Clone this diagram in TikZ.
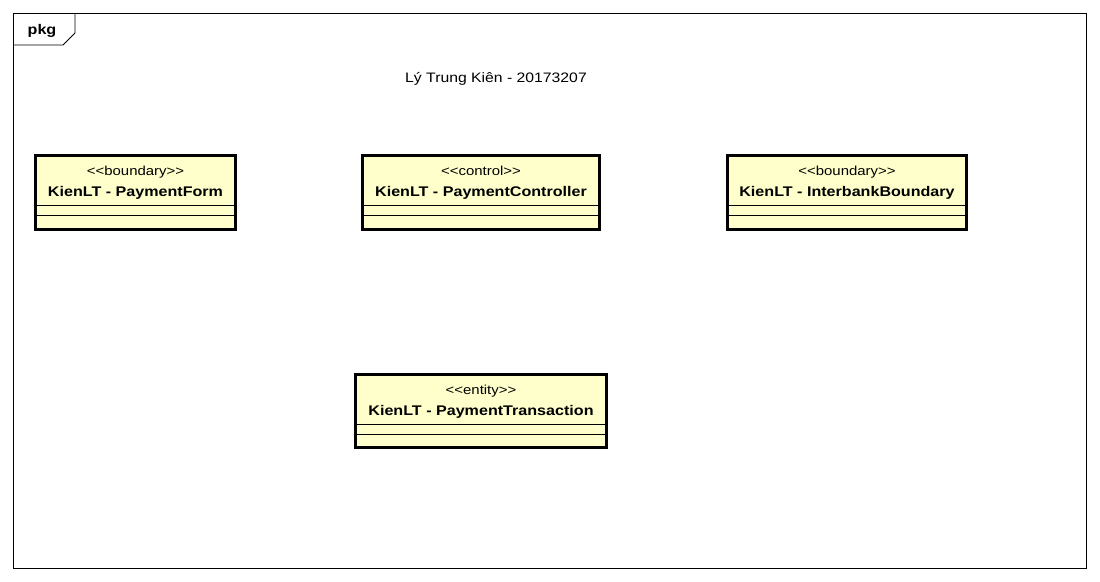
\documentclass[tikz,border=0pt]{standalone}
\usepackage{fontspec}
\setmainfont{Liberation Sans}
\newfontfamily\umlfont[FakeStretch=1.15]{Liberation Sans}
\usetikzlibrary{positioning, calc}
\definecolor{classfill}{RGB}{255,255,204}
\newcommand{\stereotxt}[1]{\textless\kern0pt\textless #1\textgreater\kern0pt\textgreater}

\begin{document}
\begin{tikzpicture}[x=1pt, y=-1pt,
    classbox/.style={draw, line width=2.5pt, fill=classfill, anchor=north west,
      inner sep=0pt, outer sep=0pt, minimum height=74pt},
    stereo/.style={anchor=base, font=\umlfont\fontsize{13}{15}\selectfont},
    cname/.style={anchor=base, font=\umlfont\fontsize{14}{16}\selectfont\bfseries},
    compline/.style={line width=0.9pt}]
\useasboundingbox (0,0) rectangle (1100,581);

% package frame with its tab
\draw[line width=0.9pt] (13,13) rectangle (1086,568);
\draw[line width=0.9pt] (75,13) -- (75,33) -- (63,45) -- (13,45);
\node[anchor=base, font=\umlfont\fontsize{14}{16}\selectfont\bfseries] (pkg) at (42,34.5) {pkg};

% author line
\node[anchor=base, font=\umlfont\fontsize{13.7}{16}\selectfont] (author) at (496,82) {Lý Trung Kiên - 20173207};

% the classes
\node[classbox, minimum width=200pt] (form) at (35.5,155.5) {};
\node[classbox, minimum width=237pt] (controller) at (362.5,155.5) {};
\node[classbox, minimum width=239pt] (interbank) at (727.5,155.5) {};
\node[classbox, minimum width=251pt, minimum height=73pt] (transaction) at (355.5,374.5) {};

\node[stereo] (formS) at ($(form.north)+(0,20)$) {\stereotxt{boundary}};
\node[cname] (formN) at ($(form.north)+(0,40.5)$) {KienLT - PaymentForm};
\node[stereo] (controllerS) at ($(controller.north)+(0,20)$) {\stereotxt{control}};
\node[cname] (controllerN) at ($(controller.north)+(0,40.5)$) {KienLT - PaymentController};
\node[stereo] (interbankS) at ($(interbank.north)+(0,20)$) {\stereotxt{boundary}};
\node[cname] (interbankN) at ($(interbank.north)+(0,40.5)$) {KienLT - InterbankBoundary};
\node[stereo] (transactionS) at ($(transaction.north)+(0,20)$) {\stereotxt{entity}};
\node[cname] (transactionN) at ($(transaction.north)+(0,40.5)$) {KienLT - PaymentTransaction};

% attribute and operation compartments
\foreach \c in {form, controller, interbank, transaction} {
  \draw[compline] ($(\c.north west)+(0,49.5)$) -- ($(\c.north east)+(0,49.5)$);
  \draw[compline] ($(\c.north west)+(0,60)$) -- ($(\c.north east)+(0,60)$);
}
\end{tikzpicture}
\end{document}
